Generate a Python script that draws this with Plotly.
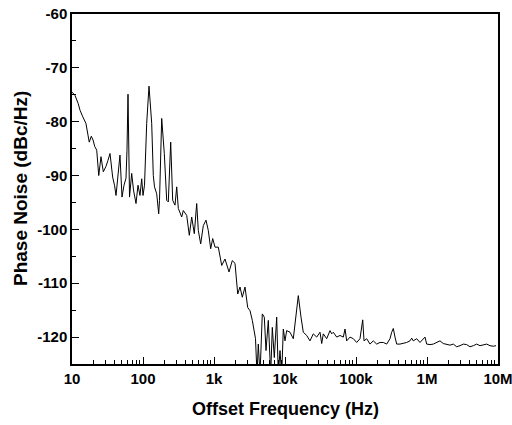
import plotly.graph_objects as go

# Offset frequency (Hz) and phase noise (dBc/Hz)
freq_hz = [
    10.0, 11.0, 12.2, 13.0, 14.2, 15.7, 16.8, 17.5, 18.7, 19.8,
    20.9, 22.3, 23.8, 25.6, 27.6, 30.1, 32.1, 34.3, 37.4, 39.7,
    41.7, 44.5, 47.4, 50.6, 54.0, 57.6, 59.5, 61.5, 63.1, 64.6,
    69.3, 73.5, 79.7, 85.0, 90.7, 95.9, 100.0, 105.0, 112.7, 121.5,
    132.6, 139.7, 145.2, 156.0, 166.4, 170.8, 183.4, 199.5, 215.7, 227.2,
    245.5, 262.0, 282.3, 298.4, 314.3, 350.9, 369.5, 412.6, 448.9, 485.2,
    527.9, 570.6, 601.0, 649.7, 707.0, 771.7, 831.2, 898.5, 958.7, 1033,
    1150, 1284, 1428, 1627, 1811, 1976, 2158, 2324, 2504, 2733,
    2983, 3214, 3463, 3695, 3842, 4033, 4206, 4446, 4789, 5110,
    5400, 5819, 6290, 6624, 7070, 7640, 8050, 8505, 8985, 9465,
    10000, 10560, 11760, 13090, 14150, 15400, 16800, 18100, 20220, 22490,
    25030, 27960, 31120, 32890, 34630, 38660, 43040, 45470, 47890, 53480,
    59520, 66240, 69990, 73960, 82320, 91620, 102300, 113800, 124300, 129700,
    141500, 157500, 175300, 195700, 217800, 242400, 270700, 301200, 318300, 335300,
    354200, 374300, 416600, 463600, 517600, 576200, 608800, 641200, 716000, 797000,
    887000, 937000, 990000, 1.102e6, 1.226e6, 1.369e6, 1.524e6, 1.696e6, 1.894e6, 2.108e6,
    2.347e6, 2.620e6, 2.916e6, 3.246e6, 3.624e6, 4.033e6, 4.489e6, 5.012e6, 5.578e6, 6.209e6,
    6.930e6, 7.713e6, 8.586e6, 9.372e6,
]
phase_noise_dbc = [
    -74.5, -75.1, -76.6, -77.9, -79.1, -80.3, -82.5, -83.8, -82.7, -83.4,
    -84.6, -85.3, -90.0, -86.5, -89.3, -88.3, -87.2, -85.9, -90.3, -91.8,
    -93.7, -90.0, -86.2, -94.0, -91.8, -90.5, -85.3, -74.9, -85.3, -94.0,
    -89.6, -92.7, -95.2, -91.8, -93.7, -90.6, -93.7, -91.8, -80.3, -73.4,
    -80.3, -90.0, -92.1, -93.4, -97.1, -94.6, -79.4, -85.9, -94.6, -94.9,
    -83.8, -94.6, -95.5, -92.1, -96.1, -97.7, -96.5, -97.4, -101.1, -97.7,
    -100.8, -95.2, -100.2, -102.7, -99.3, -98.3, -100.2, -103.6, -101.7, -103.3,
    -103.3, -106.7, -105.5, -107.9, -105.8, -106.3, -112.0, -110.7, -112.6, -110.7,
    -114.5, -115.1, -116.9, -119.4, -120.3, -127.0, -121.3, -127.0, -115.7, -116.3,
    -122.5, -116.9, -127.0, -118.2, -123.8, -116.3, -127.0, -122.5, -127.0, -118.5,
    -120.7, -118.8, -119.1, -120.3, -116.3, -112.3, -116.3, -119.1, -119.7, -120.7,
    -119.4, -120.0, -119.1, -121.2, -119.4, -120.3, -118.8, -119.4, -119.1, -120.0,
    -119.7, -120.0, -118.5, -120.7, -120.0, -120.3, -121.0, -120.3, -116.8, -120.7,
    -120.3, -121.3, -120.7, -121.3, -121.0, -121.0, -121.3, -120.3, -119.1, -118.4,
    -120.0, -121.3, -121.3, -121.2, -121.0, -120.7, -120.2, -120.7, -120.3, -121.0,
    -120.3, -120.0, -121.3, -121.4, -121.3, -121.0, -120.7, -121.2, -121.4, -121.5,
    -121.3, -121.8, -121.6, -121.3, -121.4, -121.8, -121.6, -121.3, -121.6, -121.5,
    -121.3, -121.6, -121.7, -121.6,
]

x_tick_vals = [10, 100, 1e3, 1e4, 1e5, 1e6, 1e7]
x_tick_text = ["10", "100", "1k", "10k", "100k", "1M", "10M"]
x_minor_vals = [m * 10 ** e for e in range(1, 7) for m in range(2, 10)]
y_tick_vals = [-60, -70, -80, -90, -100, -110, -120]
y_tick_text = ["-60", "-70", "-80", "-90", "-100", "-110", "-120"]
y_minor_vals = [-65, -75, -85, -95, -105, -115, -125]

FONT = "Liberation Sans, Arial, sans-serif"
X_RANGE = [0.99999, 7.00001]
Y_RANGE = [-125, -60]

fig = go.Figure()
fig.add_trace(go.Scatter(
    x=freq_hz, y=phase_noise_dbc, mode="lines",
    line=dict(color="black", width=1), showlegend=False,
))
# invisible trace on the overlay axes that carry the minor ticks
fig.add_trace(go.Scatter(
    x=[10], y=[-125], xaxis="x2", yaxis="y2", mode="markers",
    marker=dict(opacity=0), showlegend=False, hoverinfo="skip",
))

tickfont = dict(family=FONT, size=15, color="black", weight="bold")

fig.update_layout(
    width=512, height=425,
    margin=dict(l=72, r=14, t=14, b=61, autoexpand=False),
    paper_bgcolor="white", plot_bgcolor="white",
    xaxis=dict(
        type="log", range=X_RANGE, tickmode="array",
        tickvals=x_tick_vals, ticktext=x_tick_text,
        ticklabeloverflow="allow", automargin=False,
        showgrid=False, zeroline=False, showline=True, linecolor="black",
        linewidth=1.5, mirror=True, ticks="inside", tickcolor="black",
        tickwidth=1, ticklen=7, tickfont=tickfont,
    ),
    yaxis=dict(
        range=Y_RANGE, tickmode="array", tickvals=y_tick_vals,
        ticktext=y_tick_text, automargin=False,
        showgrid=False, zeroline=False, showline=True, linecolor="black",
        linewidth=1.5, mirror=True, ticks="inside", tickcolor="black",
        tickwidth=1, ticklen=7, tickfont=tickfont,
    ),
    xaxis2=dict(
        type="log", range=X_RANGE, overlaying="x", anchor="y",
        side="bottom", tickmode="array", tickvals=x_minor_vals,
        showticklabels=False, ticks="inside", ticklen=4, tickwidth=1,
        tickcolor="black", showgrid=False, zeroline=False, showline=False,
        automargin=False,
    ),
    yaxis2=dict(
        range=Y_RANGE, overlaying="y", anchor="x", side="left",
        tickmode="array", tickvals=y_minor_vals,
        showticklabels=False, ticks="inside", ticklen=4, tickwidth=1,
        tickcolor="black", showgrid=False, zeroline=False, showline=False,
        automargin=False,
    ),
    annotations=[
        dict(text="Phase Noise (dBc/Hz)", xref="paper", yref="paper",
             x=-0.122, y=0.5, xanchor="center", yanchor="middle",
             textangle=-90, showarrow=False,
             font=dict(family=FONT, size=19, color="black", weight="bold")),
        dict(text="Offset Frequency (Hz)", xref="paper", yref="paper",
             x=0.5, y=-0.13, xanchor="center", yanchor="middle",
             showarrow=False,
             font=dict(family=FONT, size=18, color="black", weight="bold")),
    ],
)

fig.write_html("out.html")
